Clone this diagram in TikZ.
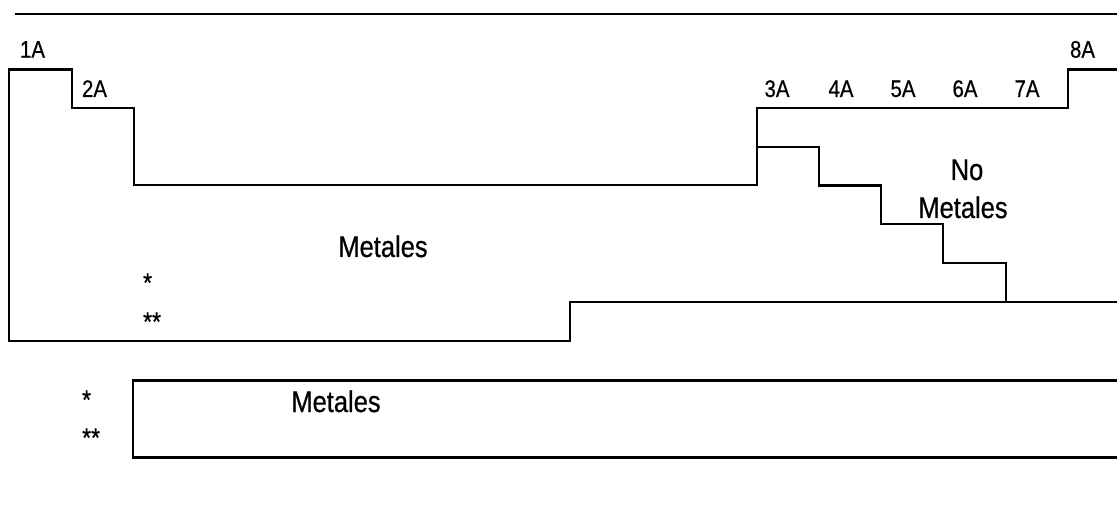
\documentclass[tikz,border=0pt]{standalone}
\usepackage{fontspec}
\setmainfont{Liberation Sans}[FakeStretch=0.85,FakeBold=0.6]
\begin{document}
\begin{tikzpicture}[x=1pt,y=-1pt,line width=2.3pt,
  lbl/.style={font=\fontsize{24}{28}\selectfont,anchor=base,inner sep=0pt},
  lblw/.style={font=\fontsize{27}{30}\selectfont,anchor=base west,inner sep=0pt},
  big/.style={font=\fontsize{30}{34}\selectfont,anchor=base,inner sep=0pt}]
\useasboundingbox (0,0) rectangle (1117,505);
% top rule
\draw (15,13.7) -- (1117,13.7);
% outline of the table
\draw (1117,69.5) -- (1068,69.5) -- (1068,108) -- (757,108) -- (757,185) -- (134,185)
  -- (134,108) -- (72,108) -- (72,69.5) -- (9,69.5) -- (9,341) -- (570,341)
  -- (570,302) -- (1117,302);
% metal / non-metal staircase
\draw (757,147) -- (819,147) -- (819,185.5) -- (881,185.5) -- (881,224)
  -- (943,224) -- (943,263) -- (1006,263) -- (1006,302);
% lower block
\draw (1117,380.5) -- (133,380.5) -- (133,457.5) -- (1117,457.5);
% group labels
\node[lbl] (g1) at (32.5,57.7) {1A};
\node[lbl] (g2) at (94.5,97) {2A};
\node[lbl] (g3) at (777,97) {3A};
\node[lbl] (g4) at (841,97) {4A};
\node[lbl] (g5) at (903,97) {5A};
\node[lbl] (g6) at (965,97) {6A};
\node[lbl] (g7) at (1027,97) {7A};
\node[lbl] (g8) at (1082.5,57.7) {8A};
% region texts
\node[big] (no) at (967,180) {No};
\node[big] (nometal) at (963,218) {Metales};
\node[big] (metal) at (383,257) {Metales};
\node[big] (metal2) at (336,412) {Metales};
% asterisks
\node[lblw] (s1) at (142,292) {*};
\node[lblw] (s2) at (142,331) {**};
\node[lblw] (s3) at (81,409) {*};
\node[lblw] (s4) at (81,447) {**};
\end{tikzpicture}
\end{document}
